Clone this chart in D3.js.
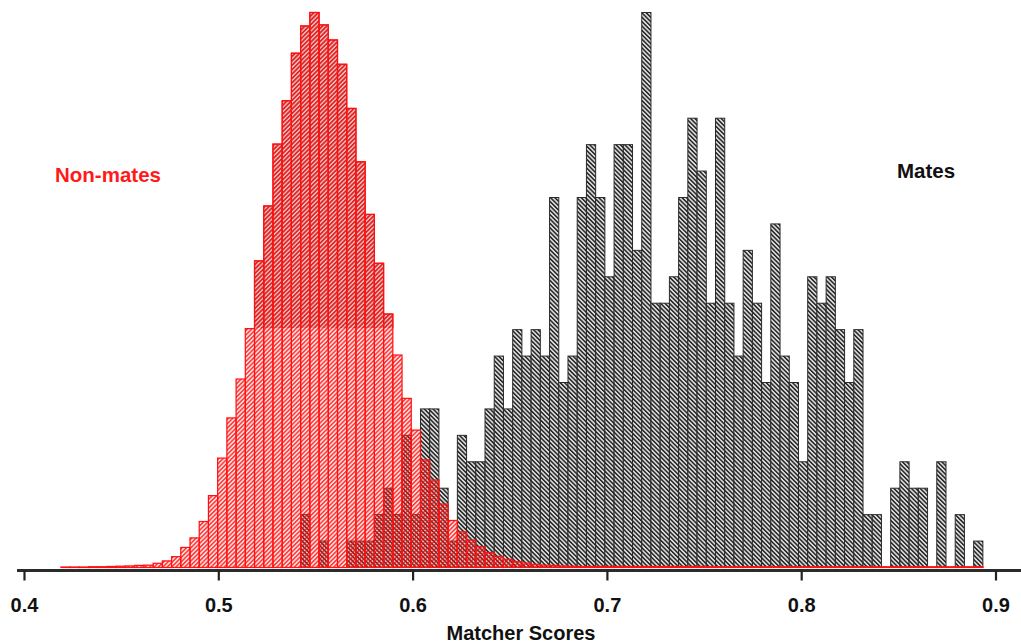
<!DOCTYPE html>
<html>
<head>
<meta charset="utf-8">
<script src="https://cdn.jsdelivr.net/npm/d3@7"></script>
<style>
  html, body { margin: 0; padding: 0; background: #fff; }
  svg { display: block; font-family: "Liberation Sans", Arial, Helvetica, sans-serif; }
</style>
</head>
<body>
<figure id="chart" style="margin:0"></figure>
<script>
// Histogram bins (shared by both series)
const binStart = 0.419;
const binWidth = 0.004745;

// Non-mate scores, scaled to the mate count axis
const nonMates = [
  0.02, 0.02, 0.02, 0.03, 0.03, 0.04, 0.05, 0.06, 0.08, 0.09,
  0.16, 0.25, 0.41, 0.76, 1.12, 1.74, 2.72, 4.14, 5.66, 7.13,
  9.04, 11.6, 13.68, 16.02, 17.66, 19.46, 20.49, 21.0, 20.53, 19.96,
  19.04, 17.37, 15.35, 13.36, 11.51, 9.59, 8.04, 6.40, 5.20, 4.07,
  3.31, 2.40, 1.78, 1.35, 1.04, 0.79, 0.57, 0.42, 0.31, 0.22,
  0.17, 0.12, 0.09, 0.08, 0.06, 0.05, 0.04, 0.04, 0.04, 0.04,
  0.04, 0.04, 0.04, 0.04, 0.04, 0.04, 0.04, 0.04, 0.04, 0.04,
  0.03, 0.03, 0.03, 0.03, 0.03, 0.03, 0.03, 0.03, 0.03, 0.03,
  0.03, 0.03, 0.03, 0.03, 0.03, 0.03, 0.03, 0.03, 0.03, 0.03,
  0.03, 0.03, 0.03, 0.03, 0.03, 0.03, 0.03, 0.03, 0.03, 0.03
];

// Mate scores (counts per bin)
const mates = [
  0, 0, 0, 0, 0, 0, 0, 0, 0, 0,
  0, 0, 0, 0, 0, 0, 0, 0, 0, 0,
  0, 0, 0, 0, 0, 0, 2, 0, 1, 0,
  0, 1, 1, 1, 2, 3, 2, 5, 2, 6,
  6, 3, 1, 5, 4, 4, 6, 8, 6, 9,
  8, 9, 8, 14, 7, 8, 14, 16, 14, 11,
  16, 16, 12, 21, 10, 10, 11, 14, 17, 15,
  10, 17, 10, 8, 12, 10, 7, 13, 8, 7,
  4, 11, 10, 11, 9, 7, 9, 2, 2, 0,
  3, 4, 3, 3, 0, 4, 0, 2, 0, 1
];

const xTicks = [0.4, 0.5, 0.6, 0.7, 0.8, 0.9];
const seriesLabels = ["Non-mates", "Mates"];
const xTitle = "Matcher Scores";

const width = 1021;
const height = 644;

const x = d3.scaleLinear().domain([0.4, 0.9]).range([24, 995.5]);
const y = d3.scaleLinear().domain([0, 21]).range([567.5, 12.5]);

const svg = d3.select("figure#chart")
  .append("svg")
  .attr("width", width)
  .attr("height", height)
  .attr("viewBox", [0, 0, width, height]);

// Hatch patterns
const defs = svg.append("defs");

function hatch(id, angle, bg, line, lw) {
  const p = defs.append("pattern")
    .attr("id", id)
    .attr("patternUnits", "userSpaceOnUse")
    .attr("width", 3.1)
    .attr("height", 3.1)
    .attr("patternTransform", `rotate(${angle})`);
  p.append("rect").attr("width", 3.1).attr("height", 3.1).attr("fill", bg);
  p.append("line")
    .attr("x1", 1.5).attr("y1", 0).attr("x2", 1.5).attr("y2", 3.1)
    .attr("stroke", line)
    .attr("stroke-width", lw);
}
hatch("hatch-mates", -45, "#dadada", "#1a1a1a", 1.4);
hatch("hatch-red", 45, "rgba(255,90,90,0.22)", "rgba(255,0,0,0.85)", 1.3);
hatch("hatch-red-dark", 45, "rgba(185,105,105,0.3)", "rgba(225,25,25,0.9)", 1.3);

defs.append("clipPath").attr("id", "upper-tile")
  .append("rect").attr("x", 0).attr("y", 0).attr("width", width).attr("height", 328);

const bins = d3.range(100).map(i => ({
  x0: binStart + i * binWidth,
  x1: binStart + (i + 1) * binWidth,
  mate: mates[i],
  non: nonMates[i]
}));

// Mates (drawn first, behind)
svg.append("g")
  .selectAll("rect")
  .data(bins.filter(d => d.mate > 0))
  .join("rect")
  .attr("x", d => x(d.x0))
  .attr("width", d => x(d.x1) - x(d.x0))
  .attr("y", d => y(d.mate))
  .attr("height", d => y(0) - y(d.mate))
  .attr("fill", "url(#hatch-mates)")
  .attr("stroke", "#2a2a2a")
  .attr("stroke-width", 1);

// Non-mates on top
function redBars(g, fill) {
  g.selectAll("rect")
    .data(bins)
    .join("rect")
    .attr("x", d => x(d.x0))
    .attr("width", d => x(d.x1) - x(d.x0))
    .attr("y", d => y(d.non))
    .attr("height", d => y(0) - y(d.non))
    .attr("fill", fill)
    .attr("stroke", "#ff1010")
    .attr("stroke-width", 1.2);
}
redBars(svg.append("g"), "url(#hatch-red)");
// upper part of the scan is a bit darker
redBars(svg.append("g").attr("clip-path", "url(#upper-tile)"), "url(#hatch-red-dark)");

// X axis
const axisY = 570.5;
svg.append("line")
  .attr("x1", 17).attr("x2", width)
  .attr("y1", axisY).attr("y2", axisY)
  .attr("stroke", "#2b2b2b")
  .attr("stroke-width", 3);

const axis = svg.append("g")
  .attr("transform", `translate(0,${axisY})`)
  .call(d3.axisBottom(x)
    .tickValues(xTicks)
    .tickFormat(d3.format(".1f"))
    .tickSize(10)
    .tickSizeOuter(0));
axis.select(".domain").remove();
axis.selectAll(".tick line")
  .attr("stroke", "#222")
  .attr("stroke-width", 2.2);
axis.selectAll(".tick text")
  .attr("y", 27)
  .attr("dy", "0.71em")
  .attr("fill", "#111")
  .attr("font-size", 20)
  .attr("font-weight", "bold")
  .attr("font-family", "'Liberation Sans', Arial, sans-serif");

svg.append("text")
  .attr("x", 521)
  .attr("y", 640)
  .attr("text-anchor", "middle")
  .attr("font-size", 20)
  .attr("font-weight", "bold")
  .attr("fill", "#111")
  .text(xTitle);

// Series labels
svg.append("text")
  .attr("x", 55)
  .attr("y", 182)
  .attr("font-size", 20.5)
  .attr("font-weight", "bold")
  .attr("fill", "#ff1a1a")
  .text(seriesLabels[0]);

svg.append("text")
  .attr("x", 897)
  .attr("y", 178)
  .attr("font-size", 20.5)
  .attr("font-weight", "bold")
  .attr("fill", "#111")
  .text(seriesLabels[1]);
</script>
</body>
</html>
